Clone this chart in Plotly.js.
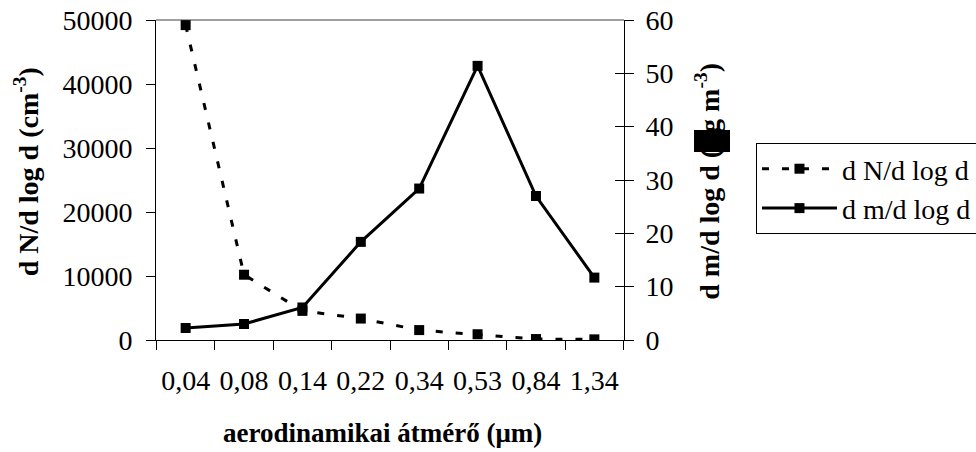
<!DOCTYPE html>
<html>
<head>
<meta charset="utf-8">
<script src="https://cdn.plot.ly/plotly-3.0.1.min.js"></script>
<style>html,body{margin:0;padding:0;background:#fff;}#chart{width:976px;height:452px;}</style>
</head>
<body>
<div id="chart"></div>
<script>
// Data
var categories = ['0,04', '0,08', '0,14', '0,22', '0,34', '0,53', '0,84', '1,34'];
var numberConc = [49200, 10200, 4550, 3350, 1550, 900, 150, 100];
var massConc = [2.25, 3.0, 6.1, 18.4, 28.4, 51.4, 27.0, 11.7];
var seriesNames = ['d N/d log d', 'd m/d log d'];
var leftTicks = [0, 10000, 20000, 30000, 40000, 50000];
var rightTicks = [0, 10, 20, 30, 40, 50, 60];

var FONT = '"Liberation Serif", "Times New Roman", Times, serif';

var traces = [
  {
    x: categories, y: numberConc, name: seriesNames[0], type: 'scatter', mode: 'lines+markers',
    xaxis: 'x', yaxis: 'y',
    line: {color: '#000', width: 3, dash: '7px,13px'},
    marker: {symbol: 'square', size: 10, color: '#000'}
  },
  {
    x: categories, y: massConc, name: seriesNames[1], type: 'scatter', mode: 'lines+markers',
    xaxis: 'x', yaxis: 'y2',
    line: {color: '#000', width: 3},
    marker: {symbol: 'square', size: 10, color: '#000'}
  },
  {
    x: categories, y: massConc, type: 'scatter', mode: 'none', showlegend: false,
    hoverinfo: 'skip', xaxis: 'x', yaxis: 'y3'
  }
];

var layout = {
  width: 976, height: 452,
  margin: {l: 156, r: 352, t: 20, b: 112, autoexpand: false},
  paper_bgcolor: '#fff', plot_bgcolor: '#fff',
  font: {family: FONT, size: 28, color: '#000'},
  showlegend: true,
  legend: {
    x: 1.282, y: 0.6156, xanchor: 'left', yanchor: 'top',
    bordercolor: '#000', borderwidth: 1, bgcolor: '#fff',
    font: {family: FONT, size: 28, color: '#000'},
    itemwidth: 75, tracegroupgap: 0
  },
  xaxis: {
    type: 'category', tickson: 'boundaries', ticks: 'outside', ticklen: 9, tickcolor: '#000',
    tickangle: 0, automargin: false,
    showline: true, linecolor: '#000', linewidth: 1, showgrid: false, zeroline: false,
    tickfont: {family: FONT, size: 28, color: '#000'}, ticklabelstandoff: 15
  },
  yaxis: {
    range: [0, 50000], tickvals: leftTicks, ticktext: leftTicks.map(String),
    ticks: 'outside', ticklen: 9, tickcolor: '#000', automargin: false,
    showline: true, linecolor: '#000', linewidth: 1, showgrid: false, zeroline: false,
    tickfont: {family: FONT, size: 28, color: '#000'}, ticklabelstandoff: 8
  },
  yaxis2: {
    range: [0, 60], tickvals: rightTicks, ticktext: rightTicks.map(String),
    overlaying: 'y', side: 'right', anchor: 'x', automargin: false,
    ticks: 'outside', ticklen: 9, tickcolor: '#000',
    showline: true, linecolor: '#000', linewidth: 1, showgrid: false, zeroline: false,
    tickfont: {family: FONT, size: 28, color: '#000'}, ticklabelstandoff: 6
  },
  yaxis3: {
    range: [0, 60], tickvals: rightTicks, overlaying: 'y', side: 'right', anchor: 'x',
    ticks: 'inside', ticklen: 9, tickcolor: '#000', showticklabels: false, automargin: false,
    showline: false, showgrid: false, zeroline: false
  },
  shapes: [
    {type: 'line', xref: 'paper', yref: 'paper', x0: 0, x1: 1, y0: 1, y1: 1,
     line: {color: '#a0a0a0', width: 2}, layer: 'below'},
    {type: 'rect', xref: 'paper', yref: 'paper', x0: 1.1496, x1: 1.2265, y0: 0.5875, y1: 0.65625,
     fillcolor: '#000', line: {width: 0}, layer: 'above'}
  ],
  annotations: [
    {text: '<b>d N/d log d (cm<sup>-3</sup>)</b>', xref: 'paper', yref: 'paper',
     x: -0.277, y: 0.525, textangle: -90, showarrow: false, xanchor: 'center', yanchor: 'middle',
     font: {family: FONT, size: 28, color: '#000'}},
    {text: '<b>d m/d log d (μg m<sup>-3</sup>)</b>', xref: 'paper', yref: 'paper',
     x: 1.179, y: 0.497, textangle: -90, showarrow: false, xanchor: 'center', yanchor: 'middle',
     font: {family: FONT, size: 28, color: '#000'}},
    {text: '<b>aerodinamikai átmérő (μm)</b>', xref: 'paper', yref: 'paper',
     x: 0.485, y: -0.29, showarrow: false, xanchor: 'center', yanchor: 'middle',
     font: {family: FONT, size: 27, color: '#000'}}
  ]
};

Plotly.newPlot('chart', traces, layout, {displayModeBar: false, staticPlot: true});
</script>
</body>
</html>
